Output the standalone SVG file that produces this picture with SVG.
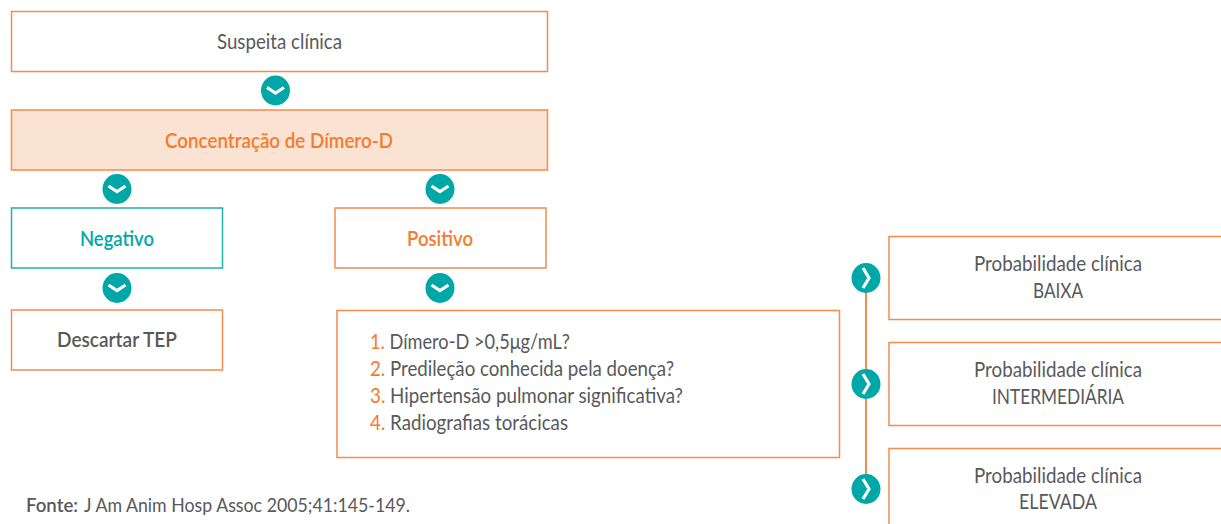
<svg xmlns="http://www.w3.org/2000/svg" width="1221" height="524" viewBox="0 0 1221 524">
<style>
text{font-family:"Lato","Noto Sans",sans-serif;font-size:21px;fill:#58595b}
.c{text-anchor:middle}
.b{font-weight:600}
.o{fill:#f47b2f}
.t{fill:#00a7a7}
.s{font-size:19px}
.box{fill:#fff;stroke:#f58b4c;stroke-width:1.500}
.dot{fill:#00a7a7}
.chev{fill:none;stroke:#fff;stroke-width:3.200}
</style>
<defs>
<g id="down"><ellipse class="dot" rx="14.500" ry="15"/><path class="chev" d="M-8.500-3 0 2.500 8.500-3"/></g>
<g id="right"><ellipse class="dot" rx="14.500" ry="15"/><path class="chev" d="M-3-10 3 0-3 10"/></g>
</defs>
<g id="connectors">
<path d="M866 278V489" fill="none" stroke="#f58b4c" stroke-width="2"/>
<use href="#down" x="275.500" y="90.500"/>
<use href="#down" x="117" y="189"/>
<use href="#down" x="440" y="189"/>
<use href="#down" x="117" y="288"/>
<use href="#down" x="440" y="288"/>
<use href="#right" x="866" y="278"/>
<use href="#right" x="866" y="384"/>
<use href="#right" x="866" y="489"/>
</g>
<g id="suspeita"><rect class="box" x="11.500" y="11.500" width="536" height="60"/><text class="c" x="279.500" y="48.500" textLength="125" lengthAdjust="spacingAndGlyphs">Suspeita clínica</text></g>
<g id="dimero"><rect class="box" x="11.500" y="110" width="536" height="60" style="fill:#fbe3d3"/><text class="c b o" x="279" y="147.500" textLength="228" lengthAdjust="spacingAndGlyphs">Concentração de Dímero-D</text></g>
<g id="negativo"><rect class="box" x="11.500" y="208" width="211" height="60" style="stroke:#1fb0b0"/><text class="c b t" x="117" y="245.500" textLength="74" lengthAdjust="spacingAndGlyphs">Negativo</text></g>
<g id="positivo"><rect class="box" x="335" y="208" width="211" height="60"/><text class="c b o" x="440" y="245.500" textLength="66" lengthAdjust="spacingAndGlyphs">Positivo</text></g>
<g id="descartar"><rect class="box" x="11.500" y="310" width="211" height="60"/><text class="c b" x="117" y="347" textLength="120" lengthAdjust="spacingAndGlyphs">Descartar TEP</text></g>
<g id="perguntas"><rect class="box" x="337" y="310.500" width="502.500" height="147"/>
<text x="370" y="349" textLength="200" lengthAdjust="spacingAndGlyphs"><tspan class="o">1.</tspan> Dímero-D &gt;0,5μg/mL?</text>
<text x="370" y="376" textLength="304" lengthAdjust="spacingAndGlyphs"><tspan class="o">2.</tspan> Predileção conhecida pela doença?</text>
<text x="370" y="403" textLength="313" lengthAdjust="spacingAndGlyphs"><tspan class="o">3.</tspan> Hipertensão pulmonar significativa?</text>
<text x="370" y="430" textLength="198" lengthAdjust="spacingAndGlyphs"><tspan class="o">4.</tspan> Radiografias torácicas</text></g>
<g id="baixa"><rect class="box" x="889" y="236.500" width="340" height="83"/><text class="c" x="1058" y="271" textLength="168" lengthAdjust="spacingAndGlyphs">Probabilidade clínica</text><text class="c" x="1058" y="298" textLength="50" lengthAdjust="spacingAndGlyphs">BAIXA</text></g>
<g id="intermediaria"><rect class="box" x="889" y="342.500" width="340" height="83"/><text class="c" x="1058" y="377" textLength="168" lengthAdjust="spacingAndGlyphs">Probabilidade clínica</text><text class="c" x="1058" y="404" textLength="132" lengthAdjust="spacingAndGlyphs">INTERMEDIÁRIA</text></g>
<g id="elevada"><rect class="box" x="889" y="448.500" width="340" height="83"/><text class="c" x="1058" y="483" textLength="168" lengthAdjust="spacingAndGlyphs">Probabilidade clínica</text><text class="c" x="1058" y="509" textLength="78" lengthAdjust="spacingAndGlyphs">ELEVADA</text></g>
<g id="fonte"><text class="b s" x="26" y="511.500" textLength="52" lengthAdjust="spacingAndGlyphs">Fonte:</text><text x="84" y="511.500" class="s" textLength="326" lengthAdjust="spacingAndGlyphs">J Am Anim Hosp Assoc 2005;41:145-149.</text></g>
</svg>
